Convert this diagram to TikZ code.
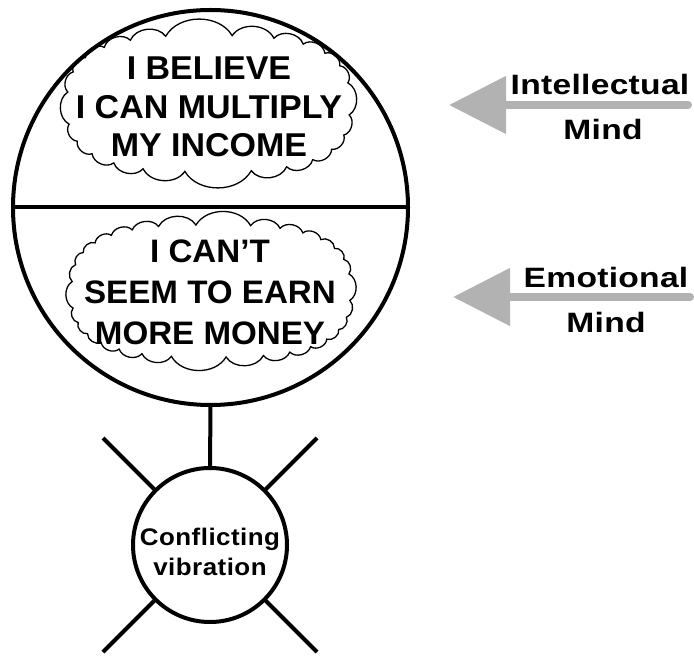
\documentclass[tikz,border=0pt]{standalone}
\usepackage{fontspec}
\setmainfont{Liberation Sans}
\usetikzlibrary{calc,arrows.meta}
\definecolor{arrowgrey}{gray}{0.7}
\def\cloudfont{\fontsize{33}{38.5}\selectfont\bfseries\addfontfeature{FakeStretch=1.03}}
\def\cloudfontB{\fontsize{32.5}{41}\selectfont\bfseries\addfontfeature{FakeStretch=1.02}}
\def\mindfont{\fontsize{28}{30}\selectfont\bfseries\addfontfeature{FakeStretch=1.2,LetterSpace=1}}
\def\vibfont{\fontsize{24}{30}\selectfont\bfseries\addfontfeature{FakeStretch=1.08,LetterSpace=2}}
% puffy cloud round a squarish oval: centre, half width, half height, number of puffs
\def\thoughtcloud[#1](#2,#3)(#4:#5:#6){\draw[#1] ({#2+#4*cos(0.3*360/#6)*pow(abs(cos(0.3*360/#6)),-0.3)}, {#3+#5*sin(0.3*360/#6)*pow(abs(sin(0.3*360/#6)),-0.3)}) \foreach \k in {1,...,#6}{ to[bend left=60] ({#2+#4*cos((\k+0.3)*360/#6)*pow(abs(cos((\k+0.3)*360/#6)),-0.3)}, {#3+#5*sin((\k+0.3)*360/#6)*pow(abs(sin((\k+0.3)*360/#6)),-0.3)}) } -- cycle;}

\begin{document}
\begin{tikzpicture}[x=1pt, y=-1pt,
	thick line/.style={line width=4pt},
	thought/.style={draw, fill=white, line width=1.3pt},
	pointer/.style={arrowgrey, line width=8pt, line cap=round, -{Triangle[length=57pt, width=56pt]}}]
		%%%%% START %%%%%
		\useasboundingbox (0, 0) rectangle (694, 660);
		
		\thoughtcloud[thought](208.5,103.5)(141:68:24)
		\thoughtcloud[thought](211,291)(139:66:30)
		
		\node[draw, circle, thick line, minimum size=395pt, inner sep=0pt, outer sep=0pt] (mind) at (210.5, 207.5) {};
		\draw[thick line] (mind.west) -- (mind.east);
		
		\node[font=\cloudfont, align=center] (beliefA) at (209, 107) {I BELIEVE\\I CAN MULTIPLY\\MY INCOME};
		\node[font=\cloudfontB, align=center] (beliefB) at (210, 292.5) {I CAN’T\\SEEM TO EARN\\MORE MONEY};
		
		\node[draw, circle, thick line, minimum size=154pt, inner sep=0pt, outer sep=0pt] (vib) at (210, 545) {};
		\node[font=\vibfont, align=center] (vibText) at (210, 551.5) {Conflicting\\vibration};
		\draw[thick line] (mind.south) -- (vib.north);
		
		\coordinate (rayNW) at (103, 438);
		\coordinate (rayNE) at (317, 438);
		\coordinate (raySW) at (103, 652);
		\coordinate (raySE) at (317, 652);
		\draw[thick line] (vib.135) -- (rayNW);
		\draw[thick line] (vib.45) -- (rayNE);
		\draw[thick line] (vib.-135) -- (raySW);
		\draw[thick line] (vib.-45) -- (raySE);
		
		\coordinate (tailA) at (688, 105);
		\coordinate (tipA) at (449, 105);
		\draw[pointer] (tailA) -- (tipA);
		\node[font=\mindfont, anchor=base] (intellect) at (600, 95) {Intellectual};
		\node[font=\mindfont, anchor=base] (mindA) at (603, 140) {Mind};
		
		\coordinate (tailB) at (690, 297);
		\coordinate (tipB) at (453, 297);
		\draw[pointer] (tailB) -- (tipB);
		\node[font=\mindfont, anchor=base] (emotion) at (606, 288) {Emotional};
		\node[font=\mindfont, anchor=base] (mindB) at (606, 333) {Mind};
		%%%%% END %%%%%
\end{tikzpicture}
\end{document}
